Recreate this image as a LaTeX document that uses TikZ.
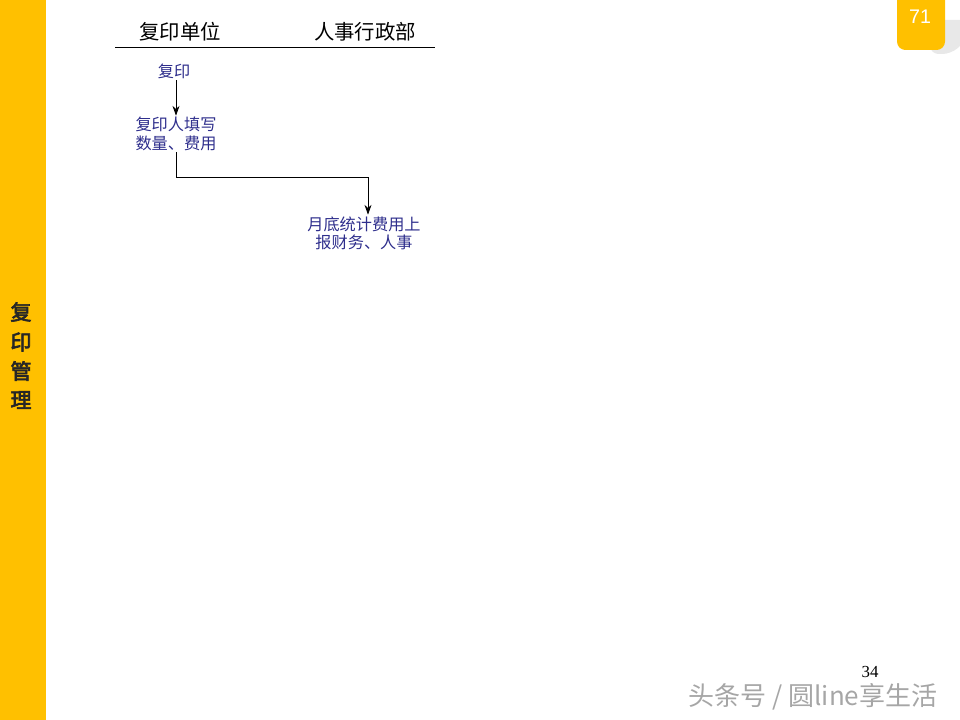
\documentclass[tikz,border=0pt]{standalone}
\usepackage{fontspec}
\newfontfamily\cjk{Noto Sans CJK SC}
\newfontfamily\cjkbold[FakeBold=3]{Noto Sans CJK SC}
\setmainfont{Liberation Serif}
\usepackage{xcolor}
\usetikzlibrary{arrows.meta,positioning,calc}
\definecolor{sideyellow}{HTML}{FFC000}
\definecolor{flowblue}{HTML}{2E2E8C}
\definecolor{shadowgrey}{HTML}{E8E8E8}
\tikzset{
  flowtext/.style={font=\cjk\fontsize{11.5}{13}\selectfont, text=flowblue, align=center, inner sep=1pt},
  headtext/.style={font=\cjk\fontsize{14.5}{16}\selectfont, text=black},
  sidetext/.style={font=\cjkbold\fontsize{15}{16}\selectfont, text=black!85},
  flowarrow/.style={line width=0.6pt, -{Stealth[length=7pt,width=5pt]}}
}
\begin{document}
\begin{tikzpicture}[x=0.025cm, y=-0.025cm]
		\useasboundingbox (0,0) rectangle (960,720);
		% side bar
		\fill [sideyellow] (0,0) rectangle (46,720);
		\node [sidetext] (side1) at (21,312) {复};
		\node [sidetext] (side2) at (21,342) {印};
		\node [sidetext] (side3) at (21,371) {管};
		\node [sidetext] (side4) at (21,400) {理};
		% page tab
		\fill [shadowgrey] (930,20) [rounded corners=6] -- (930,54) -- (951,54) [sharp corners] -- (960,46) -- (960,20) -- cycle;
		\fill [sideyellow, rounded corners=6] (897,-10) -- (897,50) -- (945,50) -- (945,-10);
		\node [font=\fontspec{Liberation Sans}\fontsize{14}{16}\selectfont, text=white] (tabnum) at (920,17) {71};
		% lane heads
		\node [headtext] (lanecopy) at (180,32) {复印单位};
		\node [headtext] (lanehr) at (365,32) {人事行政部};
		\draw [line width=0.6pt] (115,47) -- (435,47);
		% flow
		\node [flowtext] (copy) at (174,71) {复印};
		\node [flowtext] (fill) at (176,134) {复印人填写\\数量、费用};
		\node [flowtext] (report) at (364,233) {月底统计费用上\\报财务、人事};
		\draw [flowarrow] (fill.north |- copy.south) -- (fill.north);
		\draw [flowarrow] (fill.south) -- ++(0,25) -| ([xshift=0.1cm]report.north);
		% footer
		\node [font=\fontsize{12}{14}\selectfont] (pagenum) at (870,672) {34};
		\node [font=\cjk\fontsize{18.5}{20}\selectfont, text=black!35] (mark) at (813,697) {头条号 / 圆line享生活};
\end{tikzpicture}
\end{document}
